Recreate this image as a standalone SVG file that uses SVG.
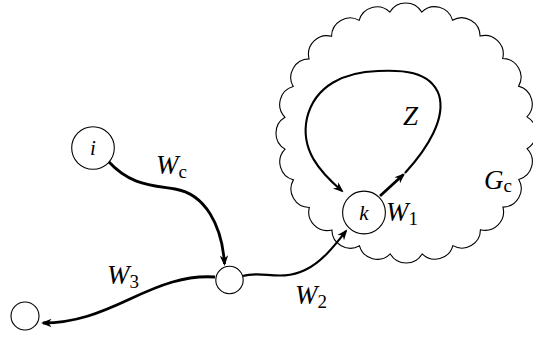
<svg xmlns="http://www.w3.org/2000/svg" width="533" height="338" viewBox="0 0 533 338">
<style>
.node{fill:#fff;stroke:#000;stroke-width:1.1}
.cloud{fill:none;stroke:#000;stroke-width:1.1}
.e{fill:none;stroke:#000;stroke-linecap:butt}
.thick{stroke-width:2.8}
.mid{stroke-width:2.1}
.lbl{font-family:"Liberation Serif","DejaVu Serif",serif;font-style:italic;font-size:27px;fill:#000}
.sub{font-family:"Liberation Serif","DejaVu Serif",serif;font-style:normal;font-size:19px;fill:#000}
.nl{font-family:"Liberation Serif","DejaVu Serif",serif;font-style:italic;font-size:21px;fill:#000;text-anchor:middle}
</style>
<defs>
<marker id="ah" markerUnits="userSpaceOnUse" orient="auto" markerWidth="24" markerHeight="24" viewBox="-12 -12 24 24" refX="0" refY="0" overflow="visible">
<path d="M2,0 L-8.5,-4.2 L-5.5,0 L-8.5,4.2 Z" fill="#000"/>
</marker>
</defs>
<g id="cloud-Gc">
<path class="cloud" d="M526.98,148.71 A18.5 18.5 0 0 1 518.80,179.49 A18.5 18.5 0 0 1 502.92,207.10 A18.5 18.5 0 0 1 480.44,229.66 A18.5 18.5 0 0 1 452.88,245.63 A18.5 18.5 0 0 1 422.14,253.93 A18.5 18.5 0 0 1 390.29,253.98 A18.5 18.5 0 0 1 359.51,245.80 A18.5 18.5 0 0 1 331.90,229.92 A18.5 18.5 0 0 1 309.34,207.44 A18.5 18.5 0 0 1 293.37,179.88 A18.5 18.5 0 0 1 285.07,149.14 A18.5 18.5 0 0 1 285.02,117.29 A18.5 18.5 0 0 1 293.20,86.51 A18.5 18.5 0 0 1 309.08,58.90 A18.5 18.5 0 0 1 331.56,36.34 A18.5 18.5 0 0 1 359.12,20.37 A18.5 18.5 0 0 1 389.86,12.07 A18.5 18.5 0 0 1 421.71,12.02 A18.5 18.5 0 0 1 452.49,20.20 A18.5 18.5 0 0 1 480.10,36.08 A18.5 18.5 0 0 1 502.66,58.56 A18.5 18.5 0 0 1 518.63,86.12 A18.5 18.5 0 0 1 526.93,116.86 A18.5 18.5 0 0 1 526.98,148.71 Z"/>
<text class="lbl" x="484" y="189">G<tspan class="sub" dy="3">c</tspan></text>
</g>
<g id="connectors">
<path class="e thick" d="M108,161 C130,185 150,185 175,189 C205,194 222,225 224.5,264" marker-end="url(#ah)"/>
<path class="e thick" d="M215,277 C185,275 160,285 130,299 C100,313 75,323 43,323" marker-end="url(#ah)"/>
<path class="e mid" d="M243,276 C262,270 280,282 305,270 C322,262 335,245 346,231" marker-end="url(#ah)"/>
<path class="e thick" d="M380,196 L403.5,174.5" marker-end="url(#ah)"/>
<path class="e mid" d="M405,173 C428,148 446,118 439,95 C430,70 400,70 378,71 C345,72 315,85 307,118 C300,150 320,172 342,191" marker-end="url(#ah)"/>
<text class="lbl" x="156" y="174">W<tspan class="sub" dy="4">c</tspan></text>
<text class="lbl" x="107" y="284">W<tspan class="sub" dy="4">3</tspan></text>
<text class="lbl" x="295" y="304">W<tspan class="sub" dy="4">2</tspan></text>
<text class="lbl" x="386" y="221">W<tspan class="sub" dy="4">1</tspan></text>
<text class="lbl" x="403" y="125">Z</text>
</g>
<g id="node-i">
<circle class="node" cx="93" cy="148" r="21.3"/>
<text class="nl" x="93" y="155">i</text>
</g>
<g id="node-mid">
<circle class="node" cx="229.5" cy="280" r="13.7"/>
</g>
<g id="node-out">
<circle class="node" cx="25" cy="316" r="14"/>
</g>
<g id="node-k">
<circle class="node" cx="364" cy="212.5" r="21.4"/>
<text class="nl" x="364" y="219.5">k</text>
</g>
</svg>
